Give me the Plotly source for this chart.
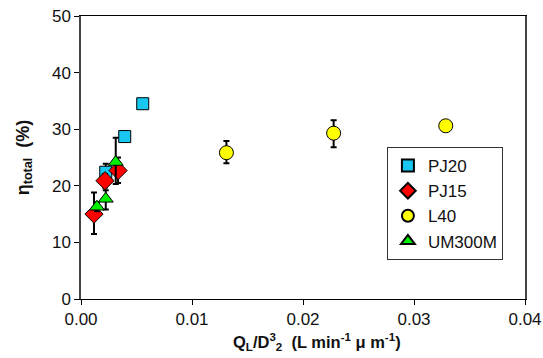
import plotly.graph_objects as go

# ---- data ----
pj20_x = [0.00223, 0.00394, 0.00556]
pj20_y = [22.4, 28.7, 34.5]
pj20_ep = [1.5, 0.7, 0.3]
pj20_em = [1.0, 0.7, 0.3]

pj15_x = [0.00117, 0.00216, 0.00334]
pj15_y = [15.0, 20.9, 22.7]
pj15_ep = [3.8, 1.2, 2.3]
pj15_em = [3.5, 1.2, 2.2]

l40_x = [0.0131, 0.02276, 0.03286]
l40_y = [25.85, 29.3, 30.6]
l40_ep = [2.05, 2.3, 0.3]
l40_em = [1.85, 2.5, 0.3]

um_x = [0.00144, 0.00223, 0.00313]
um_y = [16.3, 17.7, 24.2]
um_ep = [0.8, 1.5, 4.3]
um_em = [0.8, 1.9, 3.9]

x_ticks = [0.00, 0.01, 0.02, 0.03, 0.04]
y_ticks = [0, 10, 20, 30, 40, 50]

x_title = "<b>Q<sub>L</sub>/D<sup>3</sup><sub>2</sub>  (L min<sup>-1</sup> μ m<sup>-1</sup>)</b>"
y_title = "<b>η<sub>total</sub>  (%)</b>"

font = "Liberation Sans"

def series(name, x, y, ep, em, symbol, color, size):
    return go.Scatter(
        x=x, y=y, name=name, mode="markers",
        marker=dict(symbol=symbol, color=color, size=size,
                    line=dict(color="black", width=1)),
        error_y=dict(type="data", symmetric=False, array=ep, arrayminus=em,
                     color="black", thickness=2, width=3),
    )

fig = go.Figure()
fig.add_trace(series("PJ20", pj20_x, pj20_y, pj20_ep, pj20_em, "square", "#18C8F0", 12))
fig.add_trace(series("PJ15", pj15_x, pj15_y, pj15_ep, pj15_em, "diamond", "#FF0000", 14))
fig.add_trace(series("L40", l40_x, l40_y, l40_ep, l40_em, "circle", "#FFFF00", 14))
fig.add_trace(series("UM300M", um_x, um_y, um_ep, um_em, "triangle-up", "#00EE00", 13))

fig.update_layout(
    width=543, height=358,
    margin=dict(l=81, r=18, t=16, b=59, autoexpand=False),
    paper_bgcolor="white", plot_bgcolor="white",
    font=dict(family=font, size=17, color="#111111"),
    showlegend=True,
    legend=dict(
        x=0.689, y=0.537, xanchor="left", yanchor="top",
        bgcolor="white", bordercolor="#333333", borderwidth=1,
        font=dict(size=17, family=font),
        itemsizing="constant", tracegroupgap=0,
    ),
    annotations=[dict(
        text=x_title, xref="paper", yref="paper", x=0.532, y=-0.152,
        xanchor="center", yanchor="middle", showarrow=False,
        font=dict(size=16.5, family=font, color="#111111"),
    )],
)
fig.update_xaxes(
    range=[0, 0.04], tickvals=x_ticks, tickformat=".2f", automargin=False,
    showgrid=False, zeroline=False,
    showline=True, linecolor="black", linewidth=1, mirror=True,
    ticks="outside", ticklen=5, tickcolor="black",
    tickfont=dict(size=17, family=font),
)
fig.update_yaxes(
    range=[0, 50], tickvals=y_ticks, automargin=False,
    showgrid=False, zeroline=False,
    showline=True, linecolor="#444444", linewidth=1.5, mirror=True,
    ticks="outside", ticklen=5, tickcolor="black",
    tickfont=dict(size=17, family=font),
    title=dict(text=y_title, font=dict(size=18, family=font), standoff=18),
)

fig.write_html("out.html", config={"displayModeBar": False},
               post_script="document.body.style.margin='0px';")
